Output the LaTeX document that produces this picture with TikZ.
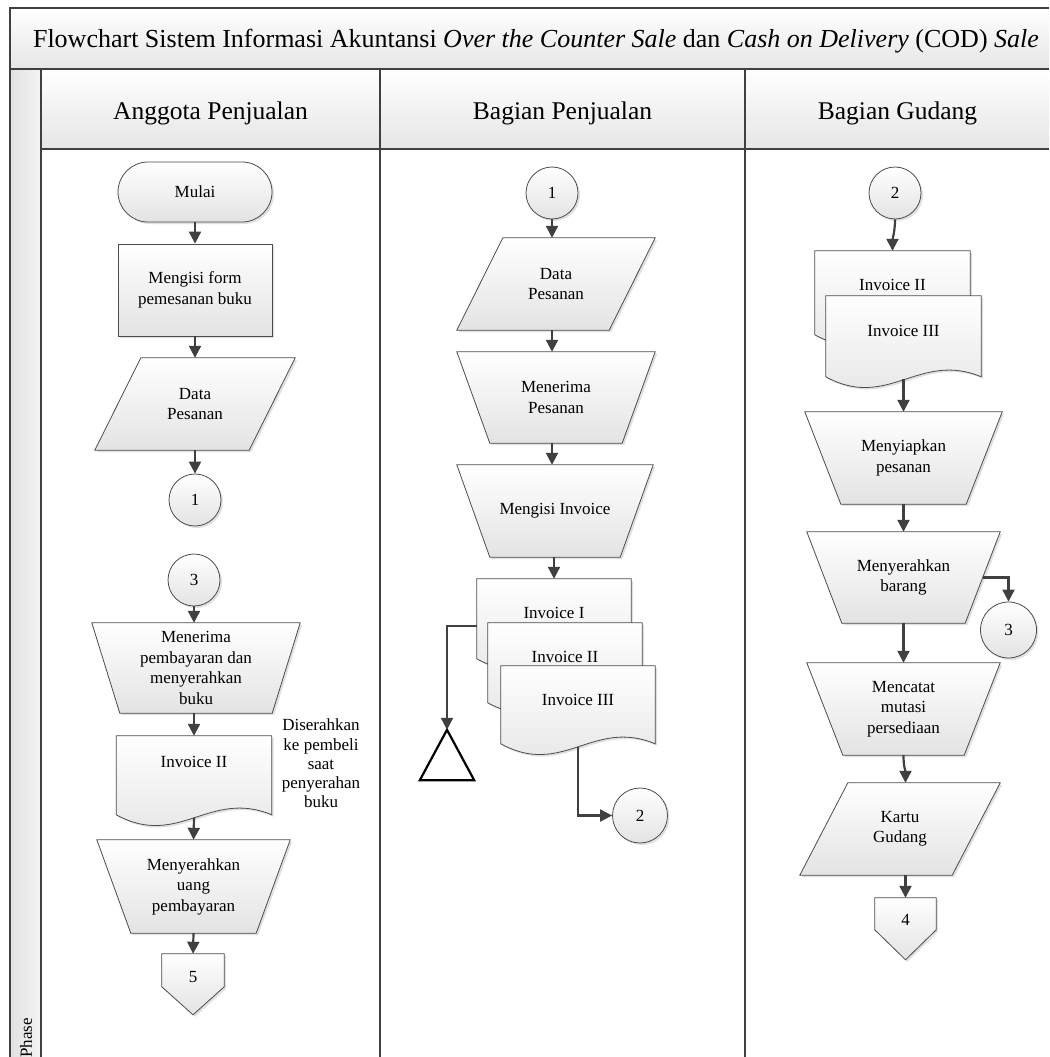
\documentclass[tikz,border=0pt]{standalone}
\usepackage{fontspec}
\setmainfont{Liberation Serif}
\usetikzlibrary{arrows.meta,calc,shadows}
\pgfdeclarelayer{frame}
\pgfdeclarelayer{shapes}
\pgfsetlayers{frame,shapes,main}

\newcommand\nodefont{\fontsize{17}{20.5}\selectfont}
\newcommand\notefont{\fontsize{17}{19.3}\selectfont}
\newcommand\headfont{\fontsize{25.5}{30}\selectfont}
\newcommand\titlefont{\fontsize{26}{30}\selectfont}

\tikzset{
  frameline/.style={draw=black!75, line width=1.6pt},
  laneline/.style={draw=black!75, line width=2pt},
  shp/.style={draw=black!70, line width=0.8pt, top color=white, bottom color=black!11,
    drop shadow={shadow xshift=2pt, shadow yshift=-2pt, fill=black!30, opacity=0.4}},
  txt/.style={inner sep=0pt, align=center, font=\nodefont},
  conn/.style={shp, circle, inner sep=0pt, font=\nodefont, minimum size=#1},
  arr/.style={draw=black!75, line width=2.2pt, -{Triangle[length=12pt,width=12pt]}},
}

% manual operation: wide top edge, bottom edge inset on both sides
\newcommand\manualop[2]{\begin{pgfonlayer}{shapes}
  \path[shp] (#1.north west) -- (#1.north east) -- ([xshift=-#2pt]#1.south east)
    -- ([xshift=#2pt]#1.south west) -- cycle;
\end{pgfonlayer}}
% input/output parallelogram
\newcommand\dataio[2]{\begin{pgfonlayer}{shapes}
  \path[shp] ([xshift=#2pt]#1.north west) -- (#1.north east) -- ([xshift=-#2pt]#1.south east)
    -- (#1.south west) -- cycle;
\end{pgfonlayer}}
% document with wavy bottom: node, depth of the side edges, wave control offset
\newcommand\docshape[3]{\begin{pgfonlayer}{shapes}
  \path[shp] ([yshift=-#2pt]#1.north west) -- (#1.north west) -- (#1.north east)
    -- ([yshift=-#2pt]#1.north east)
    .. controls ([xshift=-#3pt,yshift=-#2pt+26pt]#1.north east)
       and ([xshift=#3pt,yshift=-#2pt-34pt]#1.north west) .. ([yshift=-#2pt]#1.north west) -- cycle;
\end{pgfonlayer}}
% off-page connector: node, side height, tip depth
\newcommand\offpage[3]{\begin{pgfonlayer}{shapes}
  \path[shp] (#1.north west) -- (#1.north east) -- ([yshift=-#2pt]#1.north east)
    -- ([yshift=-#3pt]#1.north) -- ([yshift=-#2pt]#1.north west) -- cycle;
\end{pgfonlayer}}

\begin{document}
\begin{tikzpicture}[x=1pt,y=-1pt]
\useasboundingbox (0,0) rectangle (1049,1057);

% ---------- pool frame, title bar, lane headers ----------
\begin{pgfonlayer}{frame}
  \path[top color=white, bottom color=black!10] (10,8) rectangle (1049,69);
  \path[top color=white, bottom color=black!10] (41,69) rectangle (1049,149);
  \path[left color=black!12, right color=black!4] (10,69) rectangle (41,1057);
  \draw[frameline] (1049,8) -- (10,8) -- (10,1057);
  \draw[frameline] (10,69) -- (1049,69);
  \draw[frameline] (41,149) -- (1049,149);
  \draw[laneline] (41,69) -- (41,1057);
  \draw[laneline] (380,69) -- (380,1057);
  \draw[laneline] (745,69) -- (745,1057);
\end{pgfonlayer}

\node[font=\titlefont, inner sep=0pt] (title) at (536,41)
  {Flowchart Sistem Informasi Akuntansi \textit{Over the Counter Sale} dan \textit{Cash on Delivery} (COD) \textit{Sale}};
\node[font=\headfont, inner sep=0pt] (h1) at (210.5,113) {Anggota Penjualan};
\node[font=\headfont, inner sep=0pt] (h2) at (562.5,113) {Bagian Penjualan};
\node[font=\headfont, inner sep=0pt] (h3) at (897.5,113) {Bagian Gudang};
\node[txt, rotate=90] (phase) at (26,1038) {Phase};

% ---------- lane 1: Anggota Penjualan ----------
\node[shp, rounded corners=30pt, minimum width=154pt, minimum height=60pt, inner sep=0pt, font=\nodefont]
  (mulai) at (195,192) {Mulai};
\node[shp, rectangle, minimum width=154pt, minimum height=92pt, inner sep=0pt, align=center, font=\nodefont]
  (form) at (195,290) {Mengisi form\\pemesanan buku};
\node[txt, minimum width=200pt, minimum height=92pt] (data1) at (195,404) {Data\\Pesanan};
\dataio{data1}{46}
\node[conn=52pt] (c1a) at (195,500) {1};
\node[conn=52pt] (c3a) at (194,580) {3};
\node[txt, minimum width=208pt, minimum height=90pt] (terima1) at (196,668)
  {Menerima\\pembayaran dan\\menyerahkan\\buku};
\manualop{terima1}{28}
\node[txt, minimum width=155pt, minimum height=52pt] (inv2a) at (194,762) {Invoice II};
\docshape{inv2a}{79}{62}
\node[font=\notefont, align=center, inner sep=0pt] (note) at (321,763.5)
  {Diserahkan\\ke pembeli\\saat\\penyerahan\\buku};
\node[txt, minimum width=193pt, minimum height=93pt] (bayar) at (193.5,886.5)
  {Menyerahkan\\uang\\pembayaran};
\manualop{bayar}{34}
\node[txt, minimum width=62pt, minimum height=47pt] (off5) at (193,977.5) {5};
\offpage{off5}{33}{61}

\draw[arr] (mulai.south) -- (form.north);
\draw[arr] (form.south) -- (data1.north);
\draw[arr] (data1.south) -- (c1a.north);
\draw[arr] (c3a.south) -- (c3a.south |- terima1.north);
\draw[arr] (terima1.south -| inv2a.north) -- (inv2a.north);
\draw[arr] ([yshift=-82pt]inv2a.north) -- (bayar.north);
\draw[arr] (bayar.south) -- (off5.north);

% ---------- lane 2: Bagian Penjualan ----------
\node[conn=52pt] (c1b) at (552,193) {1};
\node[txt, minimum width=198pt, minimum height=92pt] (data2) at (556,284) {Data\\Pesanan};
\dataio{data2}{46}
\node[txt, minimum width=198pt, minimum height=91pt] (terima2) at (556,397.5) {Menerima\\Pesanan};
\manualop{terima2}{33}
\node[txt, minimum width=196pt, minimum height=92pt] (isi) at (555,511) {Mengisi Invoice};
\manualop{isi}{33}
\node[txt, minimum width=154pt, minimum height=68pt] (d1) at (554,613) {Invoice I};
\docshape{d1}{80}{62}
\node[txt, minimum width=154pt, minimum height=68pt] (d2) at (565,657) {Invoice II};
\docshape{d2}{80}{62}
\node[txt, minimum width=154pt, minimum height=68pt] (d3) at (578,700) {Invoice III};
\docshape{d3}{78}{62}
\node[minimum width=54pt, minimum height=50pt, inner sep=0pt] (tri) at (447,755) {};
\draw[line width=2.2pt, draw=black, fill=white] (tri.south west) -- (tri.north) -- (tri.south east) -- cycle;
\node[conn=55pt] (c2b) at (640,815.5) {2};

\draw[arr] (c1b.south) -- (c1b.south |- data2.north);
\draw[arr] (data2.south -| c1b) -- (terima2.north -| c1b);
\draw[arr] (terima2.south -| c1b) -- (isi.north -| c1b);
\draw[arr] (isi.south -| d1.north) -- (d1.north);
\draw[arr] ([yshift=-47pt]d1.north west) -| (tri.north);
\draw[arr] ([yshift=-81pt]d3.north) |- (c2b.west);

% ---------- lane 3: Bagian Gudang ----------
\node[conn=52pt] (c2c) at (895,193) {2};
\node[txt, minimum width=155pt, minimum height=68pt] (di2) at (892.5,285) {Invoice II};
\docshape{di2}{84}{62}
\node[txt, minimum width=155pt, minimum height=70pt] (di3) at (903.5,331) {Invoice III};
\docshape{di3}{81}{62}
\node[txt, minimum width=197pt, minimum height=92pt] (sia) at (903.5,458) {Menyiapkan\\pesanan};
\manualop{sia}{36}
\node[txt, minimum width=193pt, minimum height=91pt] (serah) at (903.5,577.5) {Menyerahkan\\barang};
\manualop{serah}{35}
\node[conn=56pt] (c3c) at (1008.5,630) {3};
\node[txt, minimum width=193pt, minimum height=92pt] (catat) at (903.5,709) {Mencatat\\mutasi\\persediaan};
\manualop{catat}{36}
\node[txt, minimum width=200pt, minimum height=92pt] (kartu) at (900,829) {Kartu\\Gudang};
\dataio{kartu}{48}
\node[txt, minimum width=61pt, minimum height=44pt] (off4) at (905.5,920) {4};
\offpage{off4}{32}{62}

\draw[arr] (c2c.south) .. controls +(0,12) and +(0,-12) .. (di2.north);
\draw[arr] ([yshift=-83pt]di3.north) -- (sia.north);
\draw[arr] (sia.south) -- (serah.north);
\draw[arr] ($(serah.north east)!0.5!([xshift=-35pt]serah.south east)$) -| (c3c.north);
\draw[arr] (serah.south) -- (catat.north);
\draw[arr] (catat.south) .. controls +(0,12) and +(0,-12) .. (kartu.north -| off4.north);
\draw[arr] (kartu.south -| off4.north) -- (off4.north);
\end{tikzpicture}
\end{document}
